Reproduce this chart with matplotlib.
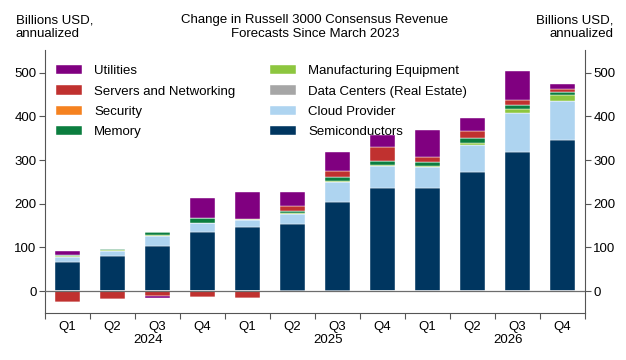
import numpy as np
import matplotlib
matplotlib.use("Agg")
import matplotlib.pyplot as plt
import matplotlib.transforms as mtransforms

plt.rcParams['font.family'] = ['Liberation Sans', 'DejaVu Sans']

quarters = ["Q1", "Q2", "Q3", "Q4"] * 3
years = ["2024", "2025", "2026"]

# stack order bottom -> top
semis    = [66, 81, 104, 135, 146, 154, 203, 235, 235, 272, 318, 346]
cloud    = [13, 11, 23, 20, 17, 23, 47, 51, 49, 63, 90, 90]
dcenters = [0, 0, 0, 0, 0, -2, -2, 0, 0, 0, 0, 0]
mfg      = [1, 2, 2, 2, 2, 3, 2, 3, 3, 4, 10, 13]
memory   = [2, 2, 6, 10, 1, 3, 10, 10, 8, 12, 7, 7]
security = [0, 0, 0, 0, 0, 0, 0, 0, -3, -3, -3, -3]
servers  = [-24, -17, -12, -14, -15, 11, 13, 30, 12, 15, 13, 6]
utilities = [10, 0, 0, 46, 61, 33, 43, 28, 61, 30, 67, 12]
util_neg  = [0, -2, -3, 0, 0, 0, 0, 0, 0, 0, 0, 0]

series = [
    ("Semiconductors", semis, "#003660"),
    ("Cloud Provider", cloud, "#AED4F0"),
    ("Data Centers (Real Estate)", dcenters, "#A6A6A6"),
    ("Manufacturing Equipment", mfg, "#8DC63F"),
    ("Memory", memory, "#0B7E3F"),
    ("Security", security, "#F58220"),
    ("Servers and Networking", servers, "#C0312F"),
    ("Utilities", utilities, "#800080"),
]
extra_neg = {"Utilities": util_neg}

fig = plt.figure(figsize=(6.26, 3.6), dpi=100)
ax = fig.add_axes([45 / 626, 1 - 313 / 360, 540 / 626, 263 / 360])

x = np.arange(len(quarters))
pos_base = np.zeros(len(x))
neg_base = np.zeros(len(x))
handles = {}
for name, vals, col in series:
    v = np.array(vals, dtype=float)
    p = np.clip(v, 0, None)
    n = np.clip(v, None, 0) + np.array(extra_neg.get(name, [0] * len(x)))
    b = ax.bar(x, p, 0.55, bottom=pos_base, color=col, edgecolor="white", linewidth=0.3, zorder=2)
    ax.bar(x, n, 0.55, bottom=neg_base, color=col, edgecolor="white", linewidth=0.3, zorder=2)
    pos_base += p
    neg_base += n
    handles[name] = b

ax.axhline(0, color="#6d6d6d", linewidth=0.9, zorder=3)

ax.set_xlim(-0.5, 11.5)
ax.set_ylim(-50, 552)
ax.set_yticks([0, 100, 200, 300, 400, 500])
ax.tick_params(axis="y", which="both", left=True, right=True, labelleft=True, labelright=True,
               direction="out", length=4, width=0.8, color="#555555", labelsize=9.5, pad=2)
ax.set_xticks(x)
ax.set_xticklabels(quarters)
ax.set_xticks(np.arange(-0.5, 12, 1), minor=True)
ax.tick_params(axis="x", which="major", length=0, labelsize=9.5, pad=6)
ax.tick_params(axis="x", which="minor", length=4, width=0.8, color="#555555", direction="out")

for s in ["left", "right", "bottom"]:
    ax.spines[s].set_color("#555555")
    ax.spines[s].set_linewidth(0.8)
ax.spines["top"].set_visible(False)

trans = mtransforms.blended_transform_factory(ax.transData, fig.transFigure)
for i, yr in enumerate(years):
    ax.text(i * 4 + 1.78, 1 - 340 / 360, yr, transform=trans, ha="center", va="center", fontsize=9.5)

order = ["Utilities", "Servers and Networking", "Security", "Memory",
         "Manufacturing Equipment", "Data Centers (Real Estate)", "Cloud Provider", "Semiconductors"]
ax.legend([handles[k] for k in order], order, ncol=2, loc="upper left",
          bbox_to_anchor=(11 / 540, 1 - 15 / 263), frameon=False, fontsize=9.5,
          handlelength=2.0, handleheight=0.7, handletextpad=0.9, columnspacing=2.6,
          labelspacing=0.62, borderaxespad=0, borderpad=0)

fig.text(315 / 626, 1 - 27 / 360, "Change in Russell 3000 Consensus Revenue\nForecasts Since March 2023",
         ha="center", va="center", fontsize=9.5, linespacing=1.2)
fig.text(16 / 626, 1 - 27 / 360, "Billions USD,\nannualized", ha="left", va="center", fontsize=9.5, linespacing=1.2)
fig.text(613 / 626, 1 - 27 / 360, "Billions USD,\nannualized", ha="right", va="center", fontsize=9.5, linespacing=1.2)

fig.savefig("out.png", dpi=100)
